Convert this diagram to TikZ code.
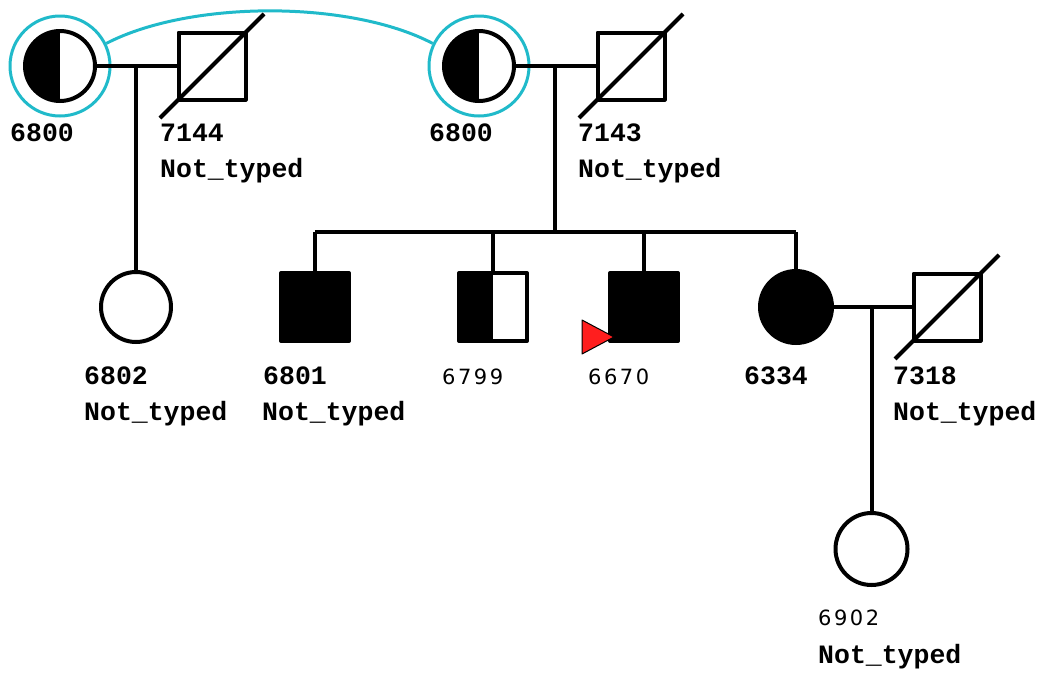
\documentclass[tikz,border=0pt]{standalone}
\usepackage{fontspec}
\usetikzlibrary{calc}
\newfontfamily\monoid{Liberation Mono}
\newfontfamily\sansid{DejaVu Sans}[LetterSpace=12]
\definecolor{ringcyan}{RGB}{32,186,202}
\definecolor{probred}{RGB}{255,30,30}

\begin{document}
\begin{tikzpicture}[x=1pt,y=-1pt, line join=round,
	person/.style={draw=black, line width=4pt, inner sep=0pt},
	female/.style={person, circle, minimum size=70pt},
	male/.style={person, rectangle, minimum size=67pt},
	affected/.style={fill=black},
	halfleft/.style={path picture={\fill (path picture bounding box.north) rectangle (path picture bounding box.south west);}},
	ring/.style={circle, draw=ringcyan, line width=3pt, minimum size=100pt, inner sep=0pt},
	slash/.style={line width=4pt},
	line/.style={line width=4pt},
	idtxt/.style={anchor=base west, inner sep=0pt, font=\monoid\bfseries\fontsize{26.5}{26.5}\selectfont},
	idsans/.style={anchor=base west, inner sep=0pt, font=\sansid\fontsize{21}{21}\selectfont}]
	\useasboundingbox (0,0) rectangle (1044,675);
	% generation I
	\node[ring] (r1) at (60,66) {};
	\node[ring] (r2) at (479,66) {};
	\draw[ringcyan, line width=3pt] (r1.26) .. controls (190,0) and (350,0) .. (r2.154);
	\node[female, halfleft] (f1) at (60,66) {};
	\node[male] (m7144) at (212,66) {};
	\node[female, halfleft] (f2) at (479,66) {};
	\node[male] (m7143) at (631,66) {};
	% generation II
	\node[female] (c6802) at (136,307) {};
	\node[male, affected, minimum size=68pt] (c6801) at (315,307) {};
	\node[male, halfleft, minimum size=68pt] (c6799) at (493,307) {};
	\node[male, affected, minimum size=68pt] (c6670) at (644,307) {};
	\node[female, affected, minimum size=72pt] (c6334) at (796,307) {};
	\node[male] (m7318) at (947,307) {};
	% generation III
	\node[female, minimum size=72pt] (c6902) at (871.5,549) {};
	% deceased
	\foreach \m in {m7144,m7143,m7318}
	\draw[slash] ($(\m.center)+(-52,52)$) -- ($(\m.center)+(52,-52)$);
	% marriages and descent
	\draw[line] (f1) -- (m7144);
	\coordinate (mar1) at ($(f1)!0.5!(m7144)$);
	\draw[line] (mar1) -- (mar1 |- c6802.north);
	\draw[line] (f2) -- (m7143);
	\coordinate (sib) at (555,232);
	\draw[line] ($(f2)!0.5!(m7143)$) -- (sib);
	\draw[line] (sib -| c6801) -- (sib -| c6334);
	\foreach \c in {c6801,c6799,c6670,c6334}
	\draw[line] (sib -| \c) -- (\c);
	\draw[line] (c6334) -- (m7318);
	\coordinate (mar3) at ($(c6334)!0.5!(m7318)$);
	\draw[line] (mar3) -- (mar3 |- c6902.north);
	% proband
	\filldraw[fill=probred, draw=black, line width=1pt] ($(c6670.center)+(-30,30)$) -- ++(-32,-17) -- ++(0,34) -- cycle;
	% labels
	\node[idtxt] (l6800a) at (10,141) {6800};
	\node[idtxt] (l7144) at (160,141) {7144};
	\node[idtxt] (t7144) at (160,177) {Not\_typed};
	\node[idtxt] (l6800b) at (429,141) {6800};
	\node[idtxt] (l7143) at (578,141) {7143};
	\node[idtxt] (t7143) at (578,177) {Not\_typed};
	\node[idtxt] (l6802) at (84,384) {6802};
	\node[idtxt] (t6802) at (84,420) {Not\_typed};
	\node[idtxt] (l6801) at (263,384) {6801};
	\node[idtxt] (t6801) at (262,420) {Not\_typed};
	\node[idsans] (l6799) at (442,384) {6799};
	\node[idsans] (l6670) at (588,384) {6670};
	\node[idtxt] (l6334) at (744,384) {6334};
	\node[idtxt] (l7318) at (893,384) {7318};
	\node[idtxt] (t7318) at (893,420) {Not\_typed};
	\node[idsans] (l6902) at (818,625) {6902};
	\node[idtxt] (t6902) at (818,663) {Not\_typed};
\end{tikzpicture}
\end{document}
